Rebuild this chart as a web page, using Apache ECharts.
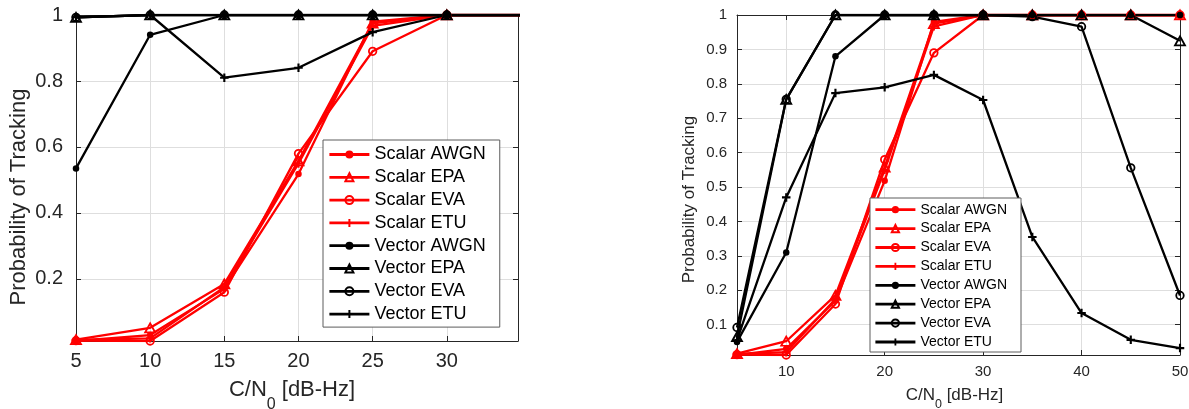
<!DOCTYPE html>
<html>
<head>
<meta charset="utf-8">
<script src="https://cdn.jsdelivr.net/npm/echarts@6/dist/echarts.min.js"></script>
<style>
  html, body { margin: 0; padding: 0; background: #ffffff; }
  #main { width: 1189px; height: 409px; }
</style>
</head>
<body>
<div id="main"></div>
<script>
// C/N0 sweep points (dB-Hz)
const snrLeft = [5, 10, 15, 20, 25, 30, 35];
const snrRight = [5, 10, 15, 20, 25, 30, 35, 40, 45, 50];

const seriesNames = ['Scalar AWGN', 'Scalar EPA', 'Scalar EVA', 'Scalar ETU',
                     'Vector AWGN', 'Vector EPA', 'Vector EVA', 'Vector ETU'];

// Scalar tracking (same in both panels)
const scalarAWGN = [0.012, 0.030, 0.170, 0.518, 0.980, 1, 1, 1, 1, 1];
const scalarEPA  = [0.016, 0.052, 0.185, 0.558, 0.975, 1, 1, 1, 1, 1];
const scalarEVA  = [0.013, 0.012, 0.160, 0.580, 0.890, 1, 1, 1, 1, 1];
const scalarETU  = [0.015, 0.020, 0.175, 0.550, 0.967, 1, 1, 1, 1, 1];

// Vector tracking, left panel
const vectorAWGNLeft = [0.535, 0.940, 1, 1, 1, 1, 1];
const vectorEPALeft  = [0.993, 1, 1, 1, 1, 1, 1];
const vectorEVALeft  = [0.993, 1, 1, 1, 1, 1, 1];
const vectorETULeft  = [0.993, 1, 0.810, 0.840, 0.948, 1, 1];

// Vector tracking, right panel
const vectorAWGNRight = [0.050, 0.310, 0.880, 1, 1, 1, 1, 1, 1, 1];
const vectorEPARight  = [0.065, 0.755, 1, 1, 1, 1, 1, 1, 1, 0.925];
const vectorEVARight  = [0.092, 0.755, 1, 1, 1, 1, 0.995, 0.966, 0.556, 0.185];
const vectorETURight  = [0.055, 0.470, 0.773, 0.790, 0.826, 0.753, 0.355, 0.134, 0.056, 0.032];

// Axis ticks
const xTicksLeft = [5, 10, 15, 20, 25, 30];
const yTicksLeft = [0.2, 0.4, 0.6, 0.8, 1];
const xTicksRight = [10, 20, 30, 40, 50];
const yTicksRight = [0.1, 0.2, 0.3, 0.4, 0.5, 0.6, 0.7, 0.8, 0.9, 1];

const FONT = '"Liberation Sans", Arial, Helvetica, sans-serif';
const AXIS_COLOR = '#262626';
const GRID_COLOR = '#dedede';
const PLUS = 'path://M3,0H5V3H8V5H5V8H3V5H0V3H3Z';
const LINE_WIDTH = 2.3;

const markerStyle = {
  'Scalar AWGN': { color: '#ff0000', symbol: 'circle', size: 6.5, hollow: false },
  'Scalar EPA':  { color: '#ff0000', symbol: 'triangle', size: [10, 9], hollow: true },
  'Scalar EVA':  { color: '#ff0000', symbol: 'circle', size: 7.5, hollow: true },
  'Scalar ETU':  { color: '#ff0000', symbol: PLUS, size: 8.5, hollow: false },
  'Vector AWGN': { color: '#000000', symbol: 'circle', size: 6.5, hollow: false },
  'Vector EPA':  { color: '#000000', symbol: 'triangle', size: [10, 9], hollow: true },
  'Vector EVA':  { color: '#000000', symbol: 'circle', size: 7.5, hollow: true },
  'Vector ETU':  { color: '#000000', symbol: PLUS, size: 8.5, hollow: false }
};

function makeSeries(name, xs, ys, axisIndex) {
  const st = markerStyle[name];
  return {
    type: 'line',
    name: name,
    xAxisIndex: axisIndex,
    yAxisIndex: axisIndex,
    data: xs.map((x, i) => [x, ys[i]]),
    symbol: st.symbol,
    symbolSize: st.size,
    showAllSymbol: true,
    clip: true,
    lineStyle: { color: st.color, width: LINE_WIDTH },
    itemStyle: st.hollow
      ? { color: 'rgba(255,255,255,0)', borderColor: st.color, borderWidth: 1.8 }
      : { color: st.color, borderWidth: 0 },
    emphasis: { disabled: true },
    animation: false
  };
}

function mainXAxis(grid, min, max, ticks, labelSize, nameSize, subSize, subPad, gap, margin, shiftPad) {
  return {
    type: 'value', gridIndex: grid, position: 'bottom', min: min, max: max,
    axisLine: { show: true, onZero: false, lineStyle: { color: AXIS_COLOR, width: 1 } },
    axisTick: { show: true, inside: true, length: 5, customValues: ticks, lineStyle: { color: AXIS_COLOR } },
    axisLabel: { show: true, customValues: ticks, fontSize: labelSize, color: AXIS_COLOR, fontFamily: FONT, margin: margin },
    splitLine: { show: true, lineStyle: { color: GRID_COLOR, width: 1 } },
    name: '{m|C/N}{s|0}{m| [dB-Hz]}',
    nameLocation: 'middle',
    nameGap: gap,
    nameTextStyle: {
      padding: [0, shiftPad, 0, 0],
      rich: {
        m: { fontSize: nameSize, color: AXIS_COLOR, fontFamily: FONT },
        s: { fontSize: subSize, color: AXIS_COLOR, fontFamily: FONT, padding: [subPad, 0, 0, 0] }
      }
    }
  };
}

function mirrorXAxis(grid, min, max, ticks) {
  return {
    type: 'value', gridIndex: grid, position: 'top', min: min, max: max,
    axisLine: { show: true, onZero: false, lineStyle: { color: AXIS_COLOR, width: 1 } },
    axisTick: { show: true, inside: true, length: 5, customValues: ticks, lineStyle: { color: AXIS_COLOR } },
    axisLabel: { show: false },
    splitLine: { show: false }
  };
}

function mainYAxis(grid, min, max, ticks, labelSize, nameSize, gap, margin, shiftPad) {
  return {
    type: 'value', gridIndex: grid, position: 'left', min: min, max: max,
    axisLine: { show: true, onZero: false, lineStyle: { color: AXIS_COLOR, width: 1 } },
    axisTick: { show: true, inside: true, length: 5, customValues: ticks, lineStyle: { color: AXIS_COLOR } },
    axisLabel: { show: true, customValues: ticks, fontSize: labelSize, color: AXIS_COLOR, fontFamily: FONT, margin: margin },
    splitLine: { show: true, lineStyle: { color: GRID_COLOR, width: 1 } },
    name: 'Probability of Tracking',
    nameLocation: 'middle',
    nameRotate: 90,
    nameGap: gap,
    nameTextStyle: { fontSize: nameSize, color: AXIS_COLOR, fontFamily: FONT, padding: [0, shiftPad, 0, 0] }
  };
}

function mirrorYAxis(grid, min, max, ticks) {
  return {
    type: 'value', gridIndex: grid, position: 'right', min: min, max: max,
    axisLine: { show: true, onZero: false, lineStyle: { color: AXIS_COLOR, width: 1 } },
    axisTick: { show: true, inside: true, length: 5, customValues: ticks, lineStyle: { color: AXIS_COLOR } },
    axisLabel: { show: false },
    splitLine: { show: false }
  };
}

function makeLegend(left, top, fontSize, itemHeight, gap, padding) {
  return {
    show: true,
    orient: 'vertical',
    left: left, top: top,
    itemWidth: 40, itemHeight: itemHeight, itemGap: gap,
    padding: padding,
    backgroundColor: '#ffffff',
    borderColor: '#5c5c5c', borderWidth: 1, borderRadius: 0,
    selectedMode: false,
    lineStyle: { width: 2.8 },
    textStyle: { fontSize: fontSize, lineHeight: fontSize, color: '#000000', fontFamily: FONT },
    data: seriesNames
  };
}

const yMin = 0.012;

const leftValues = [scalarAWGN, scalarEPA, scalarEVA, scalarETU,
                    vectorAWGNLeft, vectorEPALeft, vectorEVALeft, vectorETULeft];
const rightValues = [scalarAWGN, scalarEPA, scalarEVA, scalarETU,
                     vectorAWGNRight, vectorEPARight, vectorEVARight, vectorETURight];

const series = [];
seriesNames.forEach((n, i) => series.push(makeSeries(n, snrLeft, leftValues[i], 0)));
seriesNames.forEach((n, i) => series.push(makeSeries(n, snrRight, rightValues[i], 1)));

const option = {
  backgroundColor: '#ffffff',
  animation: false,
  grid: [
    { left: 76, top: 15, width: 442, height: 326, show: false, containLabel: false, outerBoundsMode: 'none' },
    { left: 737, top: 15, width: 443, height: 340, show: false, containLabel: false, outerBoundsMode: 'none' }
  ],
  xAxis: [
    mainXAxis(0, 5, 34.8, xTicksLeft, 20, 22, 16, 30, 26, 10, 10),
    mainXAxis(1, 5, 50, xTicksRight, 15, 17, 12.5, 18, 25, 9, 8),
    mirrorXAxis(0, 5, 34.8, xTicksLeft),
    mirrorXAxis(1, 5, 50, xTicksRight)
  ],
  yAxis: [
    mainYAxis(0, yMin, 1, yTicksLeft, 20, 22, 46, 13, 38),
    mainYAxis(1, yMin, 1, yTicksRight, 15, 17, 39, 10, 29),
    mirrorYAxis(0, yMin, 1, yTicksLeft),
    mirrorYAxis(1, yMin, 1, yTicksRight)
  ],
  legend: [
    makeLegend(323, 140, 18, 10, 4.8, [5.5, 14, 4, 5]),
    makeLegend(870, 198, 14, 9, 4.9, [4.7, 14, 3, 4])
  ],
  series: series
};

const chart = echarts.init(document.getElementById('main'), null, { renderer: 'canvas' });
chart.setOption(option);
</script>
</body>
</html>
